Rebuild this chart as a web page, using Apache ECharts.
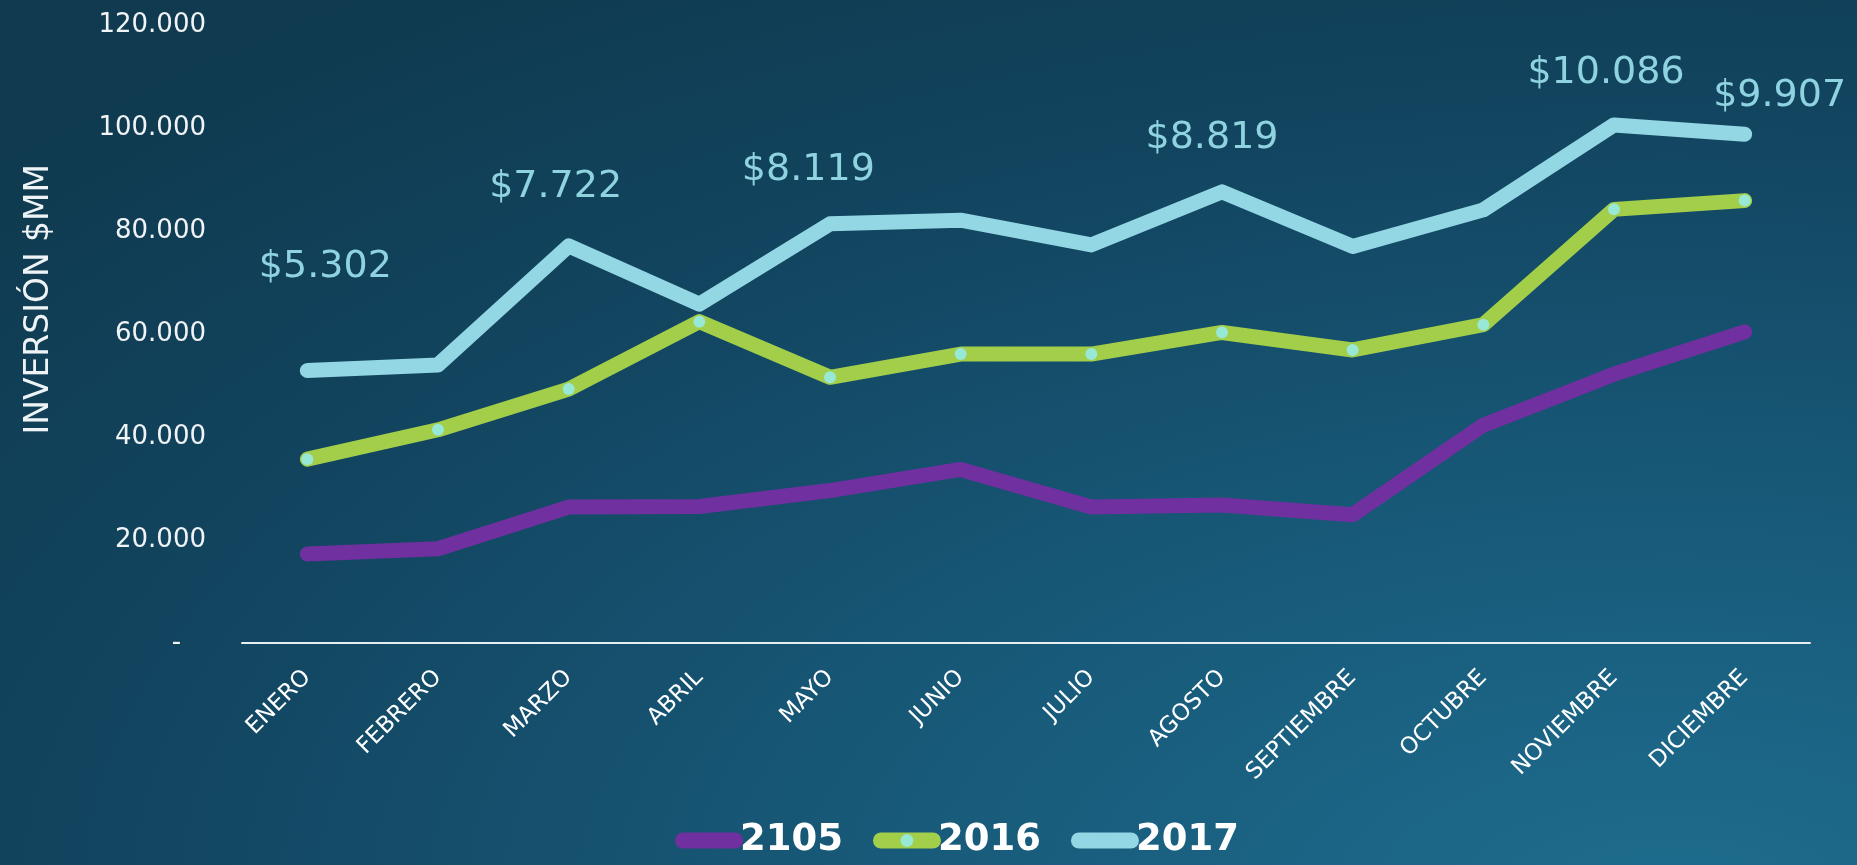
<!DOCTYPE html>
<html>
<head>
<meta charset="utf-8">
<title>Inversión mensual</title>
<script src="https://cdn.jsdelivr.net/npm/echarts@6/dist/echarts.min.js"></script>
<style>
    html, body { margin: 0; padding: 0; }
    #grafico {
        width: 1857px;
        height: 865px;
        background: radial-gradient(ellipse 120% 130% at 90% 105%, #1e6d8f 0%, #175776 40%, #124560 70%, #0f3a4f 100%);
    }
</style>
</head>
<body>
<div id="grafico"></div>
<script>
// datos
const meses = ['ENERO', 'FEBRERO', 'MARZO', 'ABRIL', 'MAYO', 'JUNIO', 'JULIO', 'AGOSTO', 'SEPTIEMBRE', 'OCTUBRE', 'NOVIEMBRE', 'DICIEMBRE'];
const serie2105 = [17300, 18300, 26400, 26500, 29600, 33700, 26400, 26800, 24900, 42300, 52200, 60400];
const serie2016 = [35700, 41400, 49300, 62400, 51600, 56100, 56100, 60300, 56900, 61800, 84200, 85900];
const serie2017 = [52900, 54000, 77100, 65800, 81400, 82100, 77300, 87600, 77000, 84100, 100600, 98800];
const notas2017 = ['$5.302', null, '$7.722', '$8.119', null, null, null, '$8.819', null, null, '$10.086', '$9.907'];
const nombresSeries = ['2105', '2016', '2017'];

// desplazamiento de cada nota respecto a su punto (px)
const desplazaNotas = [[18, -103], null, [-13, -59], [109, -134], null, null, null, [-10, -54], null, null, [-8, -52], [35, -38]];

const fuente = 'DejaVu Sans';

function miles(v) {
    if (v === 0) return '-   ';
    return String(v).replace(/\B(?=(\d{3})+(?!\d))/g, '.');
}

// solo algunos puntos de 2017 llevan nota
function datosConNotas() {
    return serie2017.map(function(v, i) {
        if (!notas2017[i]) return v;
        return {
            value: v,
            label: {
                show: true,
                position: 'inside',
                formatter: notas2017[i],
                offset: desplazaNotas[i]
            }
        };
    });
}

const chart = echarts.init(document.getElementById('grafico'));
chart.setOption({
    backgroundColor: 'transparent',
    animation: false,
    grid: { left: 242, right: 47, top: 25, bottom: 222, containLabel: false, outerBoundsMode: 'none' },
    legend: {
        data: nombresSeries,
        left: 670,
        top: 817,
        itemWidth: 52,
        itemHeight: 16,
        itemGap: 30,
        lineStyle: { width: 16, cap: 'round' },
        textStyle: { color: '#ffffff', fontFamily: fuente, fontWeight: 'bold', fontSize: 37 }
    },
    graphic: [{
        type: 'text',
        left: 23,
        top: 164,
        rotation: Math.PI / 2,
        style: {
            text: 'INVERSIÓN $MM',
            fill: '#eef3f5',
            font: '33px "DejaVu Sans"'
        }
    }],
    xAxis: {
        type: 'category',
        data: meses,
        axisLine: { lineStyle: { color: '#e6eef2', width: 2 } },
        axisTick: { show: false },
        axisLabel: { rotate: 45, margin: 31, color: '#ffffff', fontFamily: fuente, fontSize: 23 }
    },
    yAxis: {
        type: 'value',
        min: 0,
        max: 120000,
        interval: 20000,
        axisLine: { show: false },
        axisTick: { show: false },
        splitLine: { show: false },
        axisLabel: { margin: 36, color: '#f0f4f6', fontFamily: fuente, fontSize: 26, formatter: miles }
    },
    series: [
        {
            name: '2105',
            type: 'line',
            data: serie2105,
            symbol: 'none',
            color: '#7030a0',
            lineStyle: { width: 15, cap: 'round', join: 'round' }
        },
        {
            name: '2016',
            type: 'line',
            data: serie2016,
            symbol: 'circle',
            symbolSize: 12,
            color: '#a2ce4a',
            itemStyle: { color: '#98e8d6', borderWidth: 0 },
            lineStyle: { color: '#a2ce4a', width: 15, cap: 'round', join: 'round' }
        },
        {
            name: '2017',
            type: 'line',
            data: datosConNotas(),
            symbol: 'circle',
            symbolSize: 1,
            showAllSymbol: true,
            color: '#93d6e4',
            itemStyle: { color: '#93d6e4', borderWidth: 0 },
            lineStyle: { width: 15, cap: 'round', join: 'round' },
            label: { color: '#8fd3e0', fontFamily: fuente, fontSize: 38 }
        }
    ]
});
</script>
</body>
</html>
